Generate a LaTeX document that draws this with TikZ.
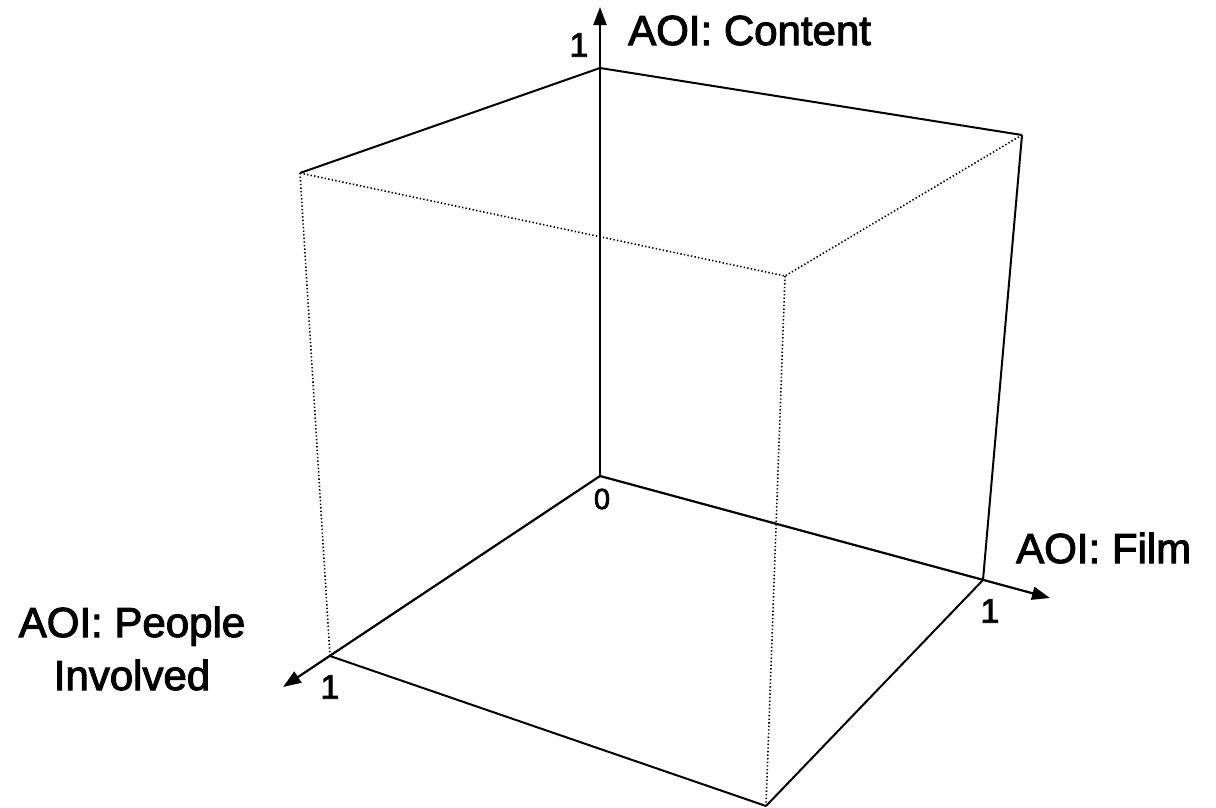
\documentclass[tikz,border=0pt]{standalone}
\usepackage{fontspec}
\setmainfont[FakeBold=2.5]{Liberation Sans}
\usetikzlibrary{arrows.meta}
\tikzset{
  axisline/.style={line width=2.2pt,-{Triangle[length=18pt,width=13pt]}},
  edge/.style={line width=2pt},
  hidden/.style={line width=1.6pt,dash pattern=on 1.4pt off 2.2pt},
  biglabel/.style={inner sep=0pt,font=\fontsize{42}{53}\selectfont},
  numlabel/.style={inner sep=0pt,font=\fontsize{34}{40}\selectfont},
}
\begin{document}
\begin{tikzpicture}[x=1pt,y=-1pt]
\useasboundingbox (0,0) rectangle (1216,807);
% cube vertices
\coordinate (O) at (600,476);
\coordinate (X1) at (983,580);
\coordinate (Y1) at (330,656);
\coordinate (Z1) at (600,68);
\coordinate (XY) at (766,806);
\coordinate (XZ) at (1022,135);
\coordinate (YZ) at (300,173);
\coordinate (XYZ) at (785,276);
% axis tips
\coordinate (Xtip) at (1050,598);
\coordinate (Ytip) at (283,687);
\coordinate (Ztip) at (600,7);
% hidden edges
\draw[hidden] (YZ) -- (Y1);
\draw[hidden] (YZ) -- (XYZ);
\draw[hidden] (XZ) -- (XYZ);
\draw[hidden] (XYZ) -- (XY);
% visible edges
\draw[edge] (Z1) -- (XZ);
\draw[edge] (Z1) -- (YZ);
\draw[edge] (XZ) -- (X1);
\draw[edge] (X1) -- (XY);
\draw[edge] (Y1) -- (XY);
% axes
\draw[axisline] (O) -- (Xtip);
\draw[axisline] (O) -- (Ytip);
\draw[axisline] (O) -- (Ztip);
% labels
\node[biglabel,anchor=base west] (lc) at (628,45) {AOI: Content};
\node[biglabel,anchor=base west] (lf) at (1016,563) {AOI: Film};
\node[biglabel,anchor=base,align=center] (lp) at (132,690) {AOI: People\\Involved};
\node[numlabel] (n1z) at (579,45) {1};
\node[numlabel] (n1x) at (990,611) {1};
\node[numlabel] (n1y) at (330,687) {1};
\node[inner sep=0pt,font=\fontsize{29}{34}\selectfont] (n0) at (602,499) {0};
\end{tikzpicture}
\end{document}
